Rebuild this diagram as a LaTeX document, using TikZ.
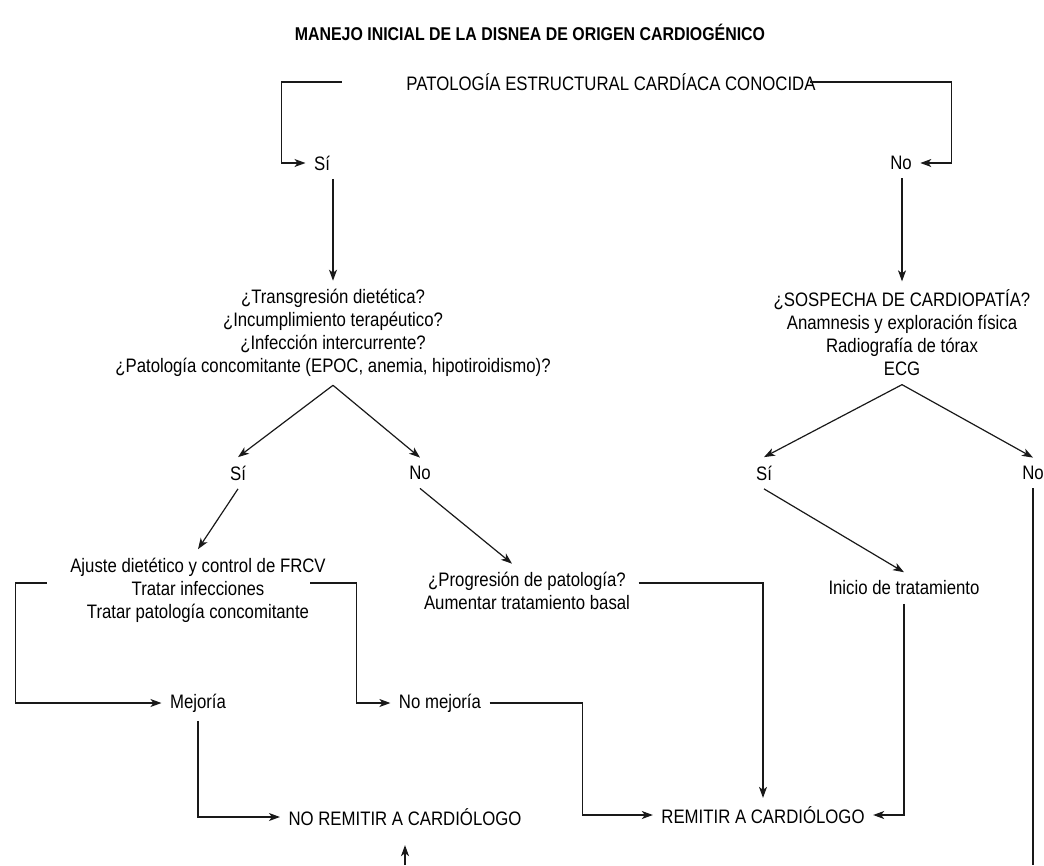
\documentclass[tikz,border=0pt]{standalone}
\usepackage{fontspec}
\setmainfont{Liberation Sans}[FakeStretch=0.86]
\usetikzlibrary{arrows.meta,positioning,calc}
\tikzset{
  >={Stealth[length=11pt,width=8pt,inset=3pt]},
  txt/.style={align=center, inner sep=8pt, font=\fontsize{19.5}{23}\selectfont},
  ttl/.style={inner sep=4pt, font=\fontsize{18.5}{22}\selectfont\bfseries},
  link/.style={line width=1.2pt, draw=black!90},
}

\begin{document}
\begin{tikzpicture}[x=1pt, y=-1pt, link]
  \useasboundingbox (0,0) rectangle (1044,865);
  \node[ttl] (title) at (530,32) {MANEJO INICIAL DE LA DISNEA DE ORIGEN CARDIOGÉNICO};
  \node[txt] (pat) at (611,82) {PATOLOGÍA ESTRUCTURAL CARDÍACA CONOCIDA};
  \node[txt] (si1) at (322,163) {Sí};
  \node[txt] (no1) at (901,163) {No};
  % primer nivel de preguntas
  \node[txt] (dudas) at (333,333) {¿Transgresión dietética?\\¿Incumplimiento terapéutico?\\¿Infección intercurrente?\\¿Patología concomitante (EPOC, anemia, hipotiroidismo)?};
  \node[txt] (sosp) at (902,333) {¿SOSPECHA DE CARDIOPATÍA?\\Anamnesis y exploración física\\Radiografía de tórax\\ECG};
  \node[txt] (si2) at (238,473) {Sí};
  \node[txt] (no2) at (420,473) {No};
  \node[txt] (si3) at (764,473) {Sí};
  \node[txt] (no3) at (1033,473) {No};
  % actuaciones
  \node[txt] (ajuste) at (198,590) {Ajuste dietético y control de FRCV\\Tratar infecciones\\Tratar patología concomitante};
  \node[txt] (prog) at (527,591) {¿Progresión de patología?\\Aumentar tratamiento basal};
  \node[txt] (inicio) at (904,588) {Inicio de tratamiento};
  \node[txt] (mejora) at (198,703) {Mejoría};
  \node[txt] (nomejora) at (440,703) {No mejoría};
  % destino
  \node[txt] (noremitir) at (405,817) {NO REMITIR A CARDIÓLOGO};
  \node[txt] (remitir) at (763,815) {REMITIR A CARDIÓLOGO};
  \coordinate (fin1) at (405,865);
  \coordinate (fin2) at (1033,865);

  \draw[->] ([xshift=-56pt]pat.west) -- ++(-60,0) |- (si1);
  \draw[->] ([xshift=-14pt]pat.east) -| ([xshift=31pt]no1.east) -- (no1.east);
  \draw[->] (dudas.north |- si1.south) -- (dudas.north);
  \draw[->] (sosp.north |- no1.south) -- (sosp.north);
  \draw[->] (dudas.south) -- (si2.north);
  \draw[->] (dudas.south) -- (no2.north);
  \draw[->] (sosp.south) -- (si3.north);
  \draw[->] (sosp.south) -- (no3.north);
  \draw[->] (si2.south) -- (ajuste.north);
  \draw[->] (no2.south) -- ([xshift=-15pt]prog.north);
  \draw[->] (si3.south) -- (inicio.north);
  \draw[->] (inicio.south) |- (remitir.east);
  \draw[->] ($(ajuste.west)+(-15,-7)$) -- ++(-31,0) |- (mejora);
  \draw[->] ($(ajuste.east)+(-24,-7)$) -- ++(46,0) |- (nomejora);
  \draw[->] (nomejora.east) -| ([xshift=-70pt]remitir.west) -- (remitir.west);
  \draw[->] (mejora.south) |- (noremitir.west);
  \draw[->] ([yshift=8pt]prog.east) -| (remitir.north);
  \draw (no3.south) -- (fin2);
  \draw[->] (fin1) -- ([yshift=-11pt]noremitir.south);
\end{tikzpicture}
\end{document}
